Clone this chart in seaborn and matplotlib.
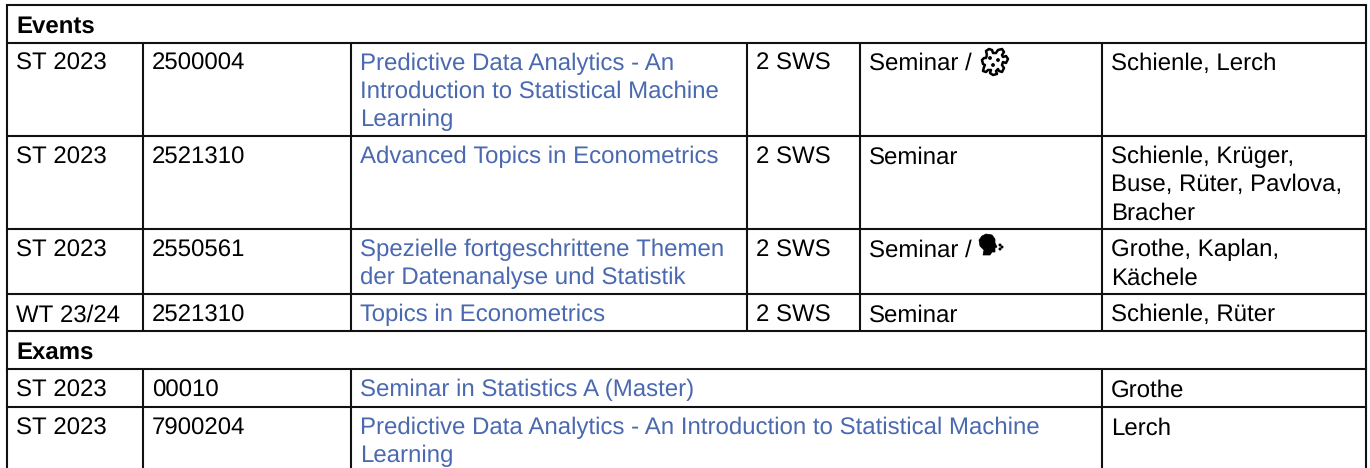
#!/usr/bin/env python

import matplotlib
matplotlib.use('Agg')
import matplotlib.pyplot as plt
from matplotlib.patches import PathPatch, Ellipse
from matplotlib.path import Path
import seaborn as sns

# Table content
SECTIONS = ['Events', 'Exams']

EVENT_TERMS = ['ST 2023', 'ST 2023', 'ST 2023', 'WT 23/24']
EVENT_NUMBERS = ['2500004', '2521310', '2550561', '2521310']
EVENT_TITLES = [
    ['Predictive Data Analytics - An', 'Introduction to Statistical Machine', 'Learning'],
    ['Advanced Topics in Econometrics'],
    ['Spezielle fortgeschrittene Themen', 'der Datenanalyse und Statistik'],
    ['Topics in Econometrics'],
]
EVENT_SWS = ['2 SWS', '2 SWS', '2 SWS', '2 SWS']
EVENT_TYPES = ['Seminar /', 'Seminar', 'Seminar /', 'Seminar']
EVENT_LECTURERS = [
    ['Schienle, Lerch'],
    ['Schienle, Krüger,', 'Buse, Rüter, Pavlova,', 'Bracher'],
    ['Grothe, Kaplan,', 'Kächele'],
    ['Schienle, Rüter'],
]

EXAM_TERMS = ['ST 2023', 'ST 2023']
EXAM_NUMBERS = ['00010', '7900204']
EXAM_TITLES = [
    ['Seminar in Statistics A (Master)'],
    ['Predictive Data Analytics - An Introduction to Statistical Machine', 'Learning'],
]
EXAM_LECTURERS = [['Grothe'], ['Lerch']]

# Layout, in pixels of the 1370x468 picture
COL_X = [7, 143, 351, 747, 860, 1102, 1366]
EVENT_ROW_Y = [42.5, 136, 229, 294, 331]
EXAM_ROW_Y = [369, 407, 468]
TOP_Y = 5
PAD_X = 9
BASELINE = 27.4
LINE_STEP = 28
FONT_SIZE = 17
LINK_BLUE = '#4a69b0'
LINE_COLOR = '#111111'
LINE_W = 1.5

PUZZLE = [(987, 55), (986, 51), (989, 49), (992, 50), (993, 53), (996, 53), (998, 50),
          (1002, 49), (1004, 52), (1002, 55), (1003, 57), (1006, 56), (1008, 59), (1006, 63),
          (1003, 62), (1002, 65), (1004, 68), (1002, 72), (999, 71), (998, 69), (996, 71),
          (997, 74), (993, 75), (990, 73), (991, 70), (988, 70), (986, 72), (983, 71),
          (984, 67), (985, 65), (983, 64), (982, 60), (984, 58), (986, 58), (987, 55)]
PUZZLE_DOTS = [(990, 58), (998, 60), (993, 65)]
HEAD = [(986, 234), (992, 235), (995, 239), (995, 243), (997, 247), (995, 248), (995, 252),
        (992, 252), (990, 255), (983, 255), (984, 250), (980, 246), (979, 240), (982, 236),
        (986, 234)]
HEAD_DOTS = [(1000, 245), (1002, 247), (1000, 249)]


def cell_lines(ax, x, row_top, lines, color='black', weight='normal'):
    for i, line in enumerate(lines):
        ax.text(x + PAD_X, row_top + BASELINE + i * LINE_STEP, line, color=color,
                fontsize=FONT_SIZE, fontweight=weight, va='baseline', ha='left')


def draw_icons(ax):
    # puzzle piece after the first "Seminar /", speaking head after the third
    ax.add_patch(PathPatch(Path(PUZZLE), facecolor='white', edgecolor='black', lw=1.8,
                           joinstyle='round', zorder=3))
    for x, y in PUZZLE_DOTS:
        ax.add_patch(Ellipse((x, y), 2.4, 2.4, color='black', zorder=3))
    ax.add_patch(PathPatch(Path(HEAD), facecolor='black', edgecolor='black', lw=0.5, zorder=3))
    for x, y in HEAD_DOTS:
        ax.add_patch(Ellipse((x, y), 1.6, 1.6, color='black', zorder=3))


def draw_grid(ax):
    full = [TOP_Y] + EVENT_ROW_Y + EXAM_ROW_Y[:2]
    for y in full:
        ax.plot([COL_X[0], COL_X[-1]], [y, y], color=LINE_COLOR, lw=LINE_W,
                solid_capstyle='projecting')
    ax.plot([COL_X[0]] * 2, [TOP_Y, 468], color=LINE_COLOR, lw=LINE_W)
    ax.plot([COL_X[-1]] * 2, [TOP_Y, 468], color=LINE_COLOR, lw=LINE_W)
    for x in COL_X[1:-1]:
        ax.plot([x, x], [EVENT_ROW_Y[0], EVENT_ROW_Y[-1]], color=LINE_COLOR, lw=LINE_W)
    for x in [COL_X[1], COL_X[2], COL_X[5]]:
        ax.plot([x, x], [EXAM_ROW_Y[0], EXAM_ROW_Y[-1]], color=LINE_COLOR, lw=LINE_W)


def main():
    sns.set_theme(style='white')
    plt.rcParams['font.family'] = ['Liberation Sans', 'DejaVu Sans']
    plt.rcParams['text.hinting'] = 'no_hinting'
    plt.rcParams['text.hinting_factor'] = 1

    fig = plt.figure(figsize=(13.7, 4.68), dpi=100)
    ax = fig.add_axes([0, 0, 1, 1])
    ax.set_xlim(0, 1370)
    ax.set_ylim(468, 0)
    ax.axis('off')

    draw_grid(ax)

    cell_lines(ax, COL_X[0], TOP_Y, [SECTIONS[0]], weight='bold')
    cell_lines(ax, COL_X[0], EVENT_ROW_Y[-1], [SECTIONS[1]], weight='bold')

    for i, row_top in enumerate(EVENT_ROW_Y[:-1]):
        cell_lines(ax, COL_X[0], row_top, [EVENT_TERMS[i]])
        cell_lines(ax, COL_X[1], row_top, [EVENT_NUMBERS[i]])
        cell_lines(ax, COL_X[2], row_top, EVENT_TITLES[i], color=LINK_BLUE)
        cell_lines(ax, COL_X[3], row_top, [EVENT_SWS[i]])
        cell_lines(ax, COL_X[4], row_top, [EVENT_TYPES[i]])
        cell_lines(ax, COL_X[5], row_top, EVENT_LECTURERS[i])

    for i, row_top in enumerate(EXAM_ROW_Y[:-1]):
        cell_lines(ax, COL_X[0], row_top, [EXAM_TERMS[i]])
        cell_lines(ax, COL_X[1], row_top, [EXAM_NUMBERS[i]])
        cell_lines(ax, COL_X[2], row_top, EXAM_TITLES[i], color=LINK_BLUE)
        cell_lines(ax, COL_X[5], row_top, EXAM_LECTURERS[i])

    draw_icons(ax)
    fig.savefig('out.png', dpi=100, facecolor='white')


if __name__ == '__main__':
    main()
